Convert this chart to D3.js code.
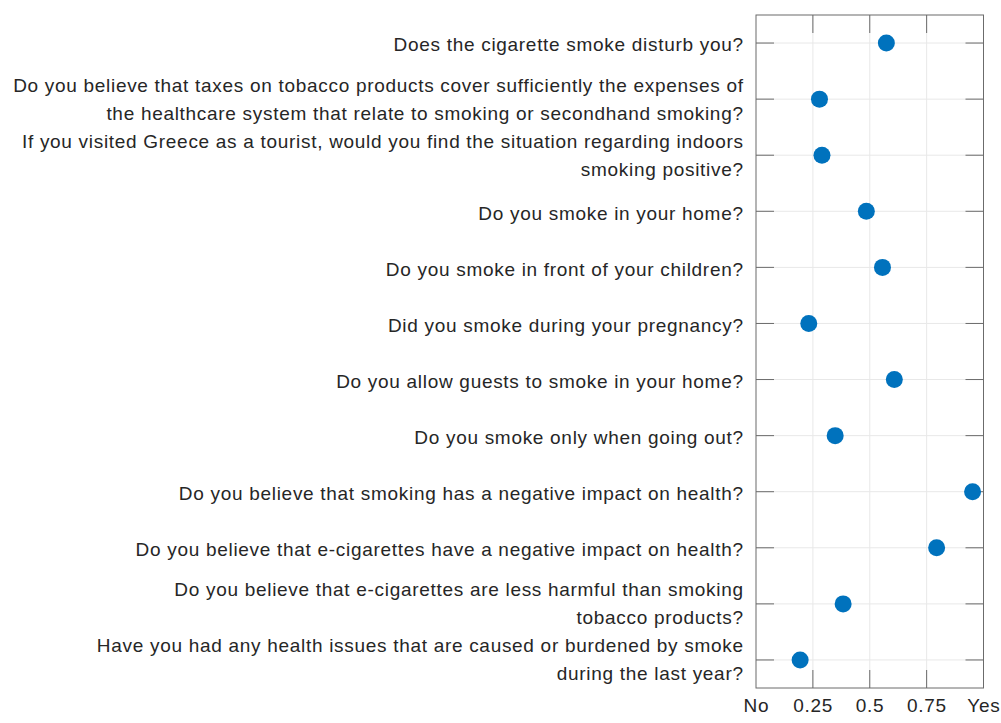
<!DOCTYPE html>
<html>
<head>
<meta charset="utf-8">
<script src="https://cdn.jsdelivr.net/npm/d3@7"></script>
<style>
  body { margin: 0; background: #fff; }
  svg { display: block; }
</style>
</head>
<body>
<div id="chart"></div>
<script>
// Survey questions (each entry = lines of the label)
const questions = [
  ["Does the cigarette smoke disturb you?"],
  ["Do you believe that taxes on tobacco products cover sufficiently the expenses of",
   "the healthcare system that relate to smoking or secondhand smoking?"],
  ["If you visited Greece as a tourist, would you find the situation regarding indoors",
   "smoking positive?"],
  ["Do you smoke in your home?"],
  ["Do you smoke in front of your children?"],
  ["Did you smoke during your pregnancy?"],
  ["Do you allow guests to smoke in your home?"],
  ["Do you smoke only when going out?"],
  ["Do you believe that smoking has a negative impact on health?"],
  ["Do you believe that e-cigarettes have a negative impact on health?"],
  ["Do you believe that e-cigarettes are less harmful than smoking",
   "tobacco products?"],
  ["Have you had any health issues that are caused or burdened by smoke",
   "during the last year?"]
];

// Share of "Yes" answers
const answers = [0.573, 0.279, 0.290, 0.485, 0.556, 0.232, 0.608, 0.348, 0.952, 0.794, 0.383, 0.194];

const xTicks = [0, 0.25, 0.5, 0.75, 1];
const xTickLabels = ["No", "0.25", "0.5", "0.75", "Yes"];

function drawChart() {
  const width = 1001;
  const height = 723;
  const box = { left: 756, right: 983.5, top: 15, bottom: 688 };
  const tickLen = 18;
  const fontSize = 19;
  const spacing = 0.7;
  const textColor = "#262626";

  const svg = d3.select("#chart").append("svg")
      .attr("width", width)
      .attr("height", height)
      .style("font-family", "'Liberation Sans', Arial, sans-serif")
      .style("letter-spacing", spacing + "px");

  const x = d3.scaleLinear()
      .domain([0, 1])
      .range([box.left, box.right]);

  const y = d3.scalePoint()
      .domain(d3.range(questions.length))
      .range([box.top, box.bottom])
      .padding(0.5);

  // Grid lines
  const grid = svg.append("g").attr("stroke", "#e8e8e8").attr("stroke-width", 1);
  grid.selectAll("line.gx")
      .data(xTicks.slice(1, -1))
      .join("line")
      .attr("class", "gx")
      .attr("x1", d => x(d)).attr("x2", d => x(d))
      .attr("y1", box.top).attr("y2", box.bottom);
  grid.selectAll("line.gy")
      .data(y.domain())
      .join("line")
      .attr("class", "gy")
      .attr("x1", box.left).attr("x2", box.right)
      .attr("y1", d => y(d)).attr("y2", d => y(d));

  // Tick marks on all four sides, pointing in
  const ticks = svg.append("g").attr("stroke", "#6b6b6b").attr("stroke-width", 1);
  xTicks.slice(1, -1).forEach(t => {
    ticks.append("line").attr("x1", x(t)).attr("x2", x(t))
        .attr("y1", box.top).attr("y2", box.top + tickLen);
    ticks.append("line").attr("x1", x(t)).attr("x2", x(t))
        .attr("y1", box.bottom).attr("y2", box.bottom - tickLen);
  });
  y.domain().forEach(i => {
    ticks.append("line").attr("x1", box.left).attr("x2", box.left + tickLen)
        .attr("y1", y(i)).attr("y2", y(i));
    ticks.append("line").attr("x1", box.right).attr("x2", box.right - tickLen)
        .attr("y1", y(i)).attr("y2", y(i));
  });

  // Axes box
  svg.append("rect")
      .attr("x", box.left).attr("y", box.top)
      .attr("width", box.right - box.left)
      .attr("height", box.bottom - box.top)
      .attr("fill", "none")
      .attr("stroke", "#6b6b6b")
      .attr("stroke-width", 1);

  // Question labels, right aligned next to the axis
  const lineH = 28;
  const labels = svg.append("g")
      .attr("fill", textColor)
      .attr("font-size", fontSize)
      .attr("text-anchor", "end");
  labels.selectAll("text")
      .data(questions)
      .join("text")
      .each(function(lines, i) {
        const t = d3.select(this);
        const base = lines.length > 1 ? 6.5 : 8.4;
        lines.forEach((line, k) => {
          t.append("tspan")
              .attr("x", box.left - 13 + spacing)
              .attr("y", y(i) + base + (k - (lines.length - 1) / 2) * lineH)
              .text(line);
        });
      });

  // X tick labels
  svg.append("g")
      .attr("fill", textColor)
      .attr("font-size", fontSize)
      .attr("text-anchor", "middle")
      .selectAll("text")
      .data(xTicks)
      .join("text")
      .attr("x", d => x(d) + spacing / 2)
      .attr("y", 712)
      .text((d, i) => xTickLabels[i]);

  // Dots
  svg.append("g")
      .selectAll("circle")
      .data(answers)
      .join("circle")
      .attr("cx", d => x(d))
      .attr("cy", (d, i) => y(i))
      .attr("r", 8.5)
      .attr("fill", "#0072BD");
}

drawChart();
</script>
</body>
</html>
